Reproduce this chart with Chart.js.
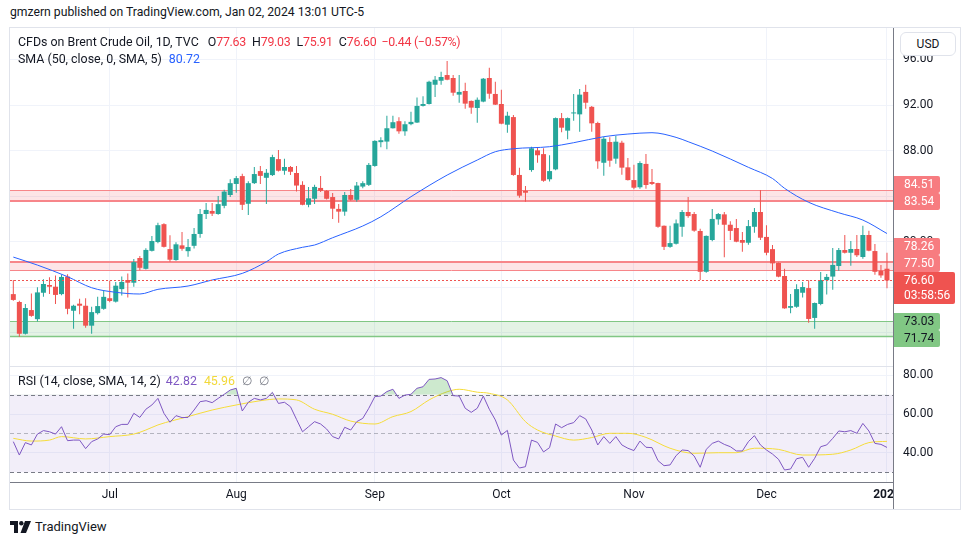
<!DOCTYPE html>
<html>
<head>
<meta charset="utf-8">
<script src="https://cdn.jsdelivr.net/npm/chart.js@4.4.1/dist/chart.umd.min.js"></script>
<style>
  body { margin: 0; background: #fff; font-family: Roboto, "Noto Sans", sans-serif; color: #131722; }
  #page { position: relative; width: 970px; height: 545px; overflow: hidden; }
  #hdr { position: absolute; left: 10px; top: 5px; font-size: 12.2px; white-space: nowrap; }
  #box { position: absolute; left: 9px; top: 27px; width: 950px; height: 481px; border: 1px solid #e0e3eb; }
  #chart { position: absolute; left: 0; top: 0; }
  .lg { position: absolute; left: 8px; font-size: 12.4px; line-height: 16px; white-space: nowrap; color: #131722; }
  .dn { color: #f23645; letter-spacing: -0.3px; }
  #usd { position: absolute; left: 890px; top: 4px; width: 54px; height: 22px; border: 1px solid #e0e3eb; border-radius: 6px;
         background: #fff; font-size: 12px; line-height: 22px; text-align: center; }
  #ftr { position: absolute; left: 10px; top: 519px; height: 16px; font-size: 13px; line-height: 16px; white-space: nowrap; }
  #ftr svg { position: absolute; left: 0; top: 2px; }
  #ftr span { position: absolute; left: 25px; top: 0; }
</style>
</head>
<body>
<div id="page">
  <div id="hdr">gmzern published on TradingView.com, Jan 02, 2024 13:01 UTC-5</div>
  <div id="box">
    <canvas id="chart" width="950" height="481"></canvas>
    <div class="lg" id="lg1" style="top:6px"></div>
    <div class="lg" id="lg2" style="top:23px"></div>
    <div class="lg" id="lg3" style="top:345px"></div>
    <div id="usd">USD</div>
  </div>
  <div id="ftr">
    <svg width="22" height="12" viewBox="0 0 22 12">
      <path d="M0 0h8v12h-4v-8h-4z" fill="#131722"/>
      <circle cx="11.3" cy="2.2" r="2.2" fill="#131722"/>
      <path d="M15 0h6l-5 12h-5.5z" fill="#131722"/>
    </svg>
    <span>TradingView</span>
  </div>
</div>
<script>
// daily candles, Jun 9 2023 .. Jan 2 2024 (index = trading day)
const opens = [75.40,74.71,71.92,74.00,73.20,75.52,76.20,76.05,75.40,76.94,
  73.94,74.56,74.38,72.63,73.73,74.11,75.04,74.74,75.84,76.64,
  76.40,78.57,77.62,79.20,79.97,81.54,79.35,78.39,79.68,79.17,
  79.64,80.68,82.43,82.70,82.43,83.15,84.10,85.07,85.76,83.33,
  85.14,86.20,85.61,85.85,87.25,86.23,86.56,86.03,84.99,83.24,
  83.77,84.72,84.46,83.92,82.88,82.64,84.10,83.68,84.84,84.99,
  86.65,88.74,88.79,89.96,90.58,89.69,90.32,90.46,91.92,92.09,
  93.78,94.13,94.63,94.37,92.91,93.23,92.36,91.74,92.30,94.37,
  92.97,92.09,90.27,90.94,85.86,84.47,86.29,88.02,87.69,85.48,
  86.35,90.85,89.75,91.26,91.18,93.15,91.84,90.42,86.93,88.75,
  87.29,88.69,86.53,85.41,84.78,86.83,85.24,85.15,81.40,79.55,
  79.82,81.31,82.61,82.43,80.94,77.36,80.15,81.96,82.40,81.49,
  81.20,80.15,79.91,81.31,82.61,80.42,79.35,78.13,76.99,74.20,
  74.29,75.52,75.93,73.31,74.53,76.62,76.94,77.87,79.27,79.03,
  79.36,78.66,80.59,79.18,77.45,77.63];
const highs = [76.64,74.82,74.53,75.46,76.00,76.70,76.89,77.04,77.09,77.15,
  74.47,75.00,75.03,74.29,75.16,75.76,76.58,76.47,76.94,77.21,
  78.48,78.75,79.43,80.51,81.66,81.62,80.57,79.95,80.86,80.24,
  81.20,82.88,83.39,83.39,84.01,84.57,85.49,85.76,85.96,85.31,
  86.56,86.65,86.38,87.63,88.05,87.28,86.65,86.65,85.31,84.81,
  84.99,85.76,84.54,84.28,83.32,84.37,84.63,85.25,85.31,86.91,
  88.90,89.16,91.06,91.06,90.92,90.58,91.41,92.67,92.76,94.13,
  94.55,94.92,95.86,94.63,94.63,93.96,92.40,92.67,94.37,95.28,
  94.04,93.34,91.41,91.12,86.50,84.89,88.34,88.32,88.20,87.59,
  90.91,91.30,90.91,92.97,93.40,93.78,91.91,90.54,89.21,89.16,
  89.30,88.87,87.35,86.76,87.06,87.69,86.38,85.18,81.43,81.40,
  81.96,82.79,83.92,82.61,81.13,80.55,82.88,82.52,82.61,81.79,
  81.99,80.86,81.90,82.95,84.54,81.45,79.71,78.17,77.63,75.40,
  76.26,76.47,76.62,74.67,77.34,77.16,79.45,79.45,80.59,80.06,
  80.59,81.40,80.97,79.80,77.95,79.03];
const lows = [74.82,71.65,71.85,73.42,72.99,75.16,75.40,74.53,75.30,73.64,
  72.37,73.64,72.45,71.92,73.62,74.02,74.68,74.67,75.28,75.10,
  76.05,77.50,77.57,79.15,79.86,79.50,78.24,78.32,79.20,78.69,
  79.41,80.35,81.99,82.25,82.37,82.94,83.92,84.30,82.79,82.34,
  85.07,85.07,83.32,85.77,86.17,85.87,85.85,84.40,83.20,83.03,
  83.32,84.37,83.70,81.99,81.66,82.28,83.60,83.50,84.70,84.90,
  86.57,88.29,88.11,89.93,89.48,89.30,90.23,90.43,91.86,92.05,
  92.70,93.78,94.17,92.82,92.20,91.68,91.24,90.45,92.25,92.55,
  92.00,90.32,89.57,85.80,83.86,83.50,86.14,86.93,85.26,85.28,
  86.27,89.60,88.99,90.62,89.66,91.68,89.66,86.41,85.80,86.59,
  86.84,85.87,85.38,84.60,84.65,84.65,84.98,81.23,79.27,79.46,
  79.75,80.43,82.10,80.88,76.63,77.28,80.05,81.49,78.63,80.15,
  79.95,79.12,79.74,80.79,80.15,78.81,77.51,76.89,74.12,73.71,
  74.20,75.10,72.89,72.37,74.42,75.37,75.78,77.45,78.97,77.89,
  78.66,78.51,79.16,77.10,76.83,75.91];
const closes = [74.89,71.92,74.18,73.49,75.55,76.29,76.05,75.33,76.91,74.11,
  74.38,74.38,72.63,73.82,74.35,75.16,74.80,76.14,76.47,76.40,
  78.21,77.71,79.28,80.06,81.45,79.55,78.42,79.77,79.38,79.53,
  80.68,82.43,82.79,82.46,83.30,84.40,85.14,85.58,83.24,85.14,
  85.94,85.78,86.05,87.43,86.23,86.56,86.14,84.93,83.24,83.81,
  84.81,84.46,83.77,82.90,82.64,84.10,83.68,84.93,85.14,86.74,
  88.85,88.91,89.96,90.49,89.69,90.31,90.52,91.92,92.09,94.04,
  94.22,94.46,94.22,93.08,93.15,92.12,91.77,92.46,94.31,92.99,
  92.03,90.36,91.06,85.86,84.04,84.30,88.20,87.59,85.35,86.20,
  90.85,90.01,90.85,91.31,92.91,92.20,90.39,87.06,89.04,87.11,
  88.78,86.50,85.41,84.74,86.91,84.98,85.07,81.31,79.55,79.88,
  81.61,82.61,82.25,80.97,77.36,80.51,82.00,82.43,81.49,80.95,
  80.00,79.91,81.37,82.61,80.35,79.03,78.10,76.93,74.15,74.35,
  75.84,76.02,73.22,74.62,76.64,76.91,77.96,79.27,79.03,79.36,
  78.81,80.59,79.21,77.36,77.04,76.60];

// SMA(50) at these candle indexes
const smaIdx = [0,4,9,13,17,21,24,29,33,38,42,44,48,50,53,58,61,66,72,77,80,83,89,93,98,102,106,110,112,116,122,126,128,132,137,141,145];
const smaVals = [78.65,77.95,76.93,75.96,75.56,75.41,75.82,76.11,76.64,77.22,78.24,78.92,79.51,79.71,80.35,81.38,82.19,83.95,85.85,87.17,87.90,88.16,88.34,88.69,89.22,89.45,89.57,89.16,88.78,87.96,86.53,85.55,84.69,83.46,82.54,81.90,80.72];

// RSI(14), one value per candle
const rsi = [45.8,38.9,45.3,44.1,49.7,51.5,50.9,49.7,53.5,46.3,
  46.6,46.6,42.2,45.8,47.2,49.7,49.4,53.5,54.7,54.7,
  60.4,58.3,62.5,64.7,68.1,60.4,55.8,59.2,58.2,58.3,
  62.1,66.4,66.9,65.9,68.1,70.2,72.4,73.3,61.6,66.1,
  68.1,67.3,68.1,71.2,65.5,66.1,63.8,57.3,50.9,53.5,
  56.1,54.9,52.3,48.4,47.2,53.2,51.8,56.1,57.8,63.0,
  69.0,69.3,71.6,72.8,68.1,69.8,70.2,73.3,74.1,77.9,
  78.1,78.8,77.2,69.5,69.3,63.0,60.9,63.0,69.3,62.5,
  57.0,49.2,51.6,36.3,32.2,32.9,46.6,45.4,40.5,42.7,
  54.9,53.0,54.7,55.6,59.2,57.5,51.8,44.1,48.4,44.9,
  48.4,44.1,42.4,41.2,46.1,42.9,42.7,36.0,33.4,33.8,
  38.6,41.5,41.2,38.4,32.6,41.8,44.9,46.1,44.4,43.2,
  41.0,41.0,45.8,48.9,44.1,41.5,39.4,36.7,31.2,31.7,
  37.0,37.7,32.6,37.2,43.2,44.1,47.5,51.3,50.9,51.5,
  50.1,55.2,51.3,44.9,44.4,42.82];

// SMA(14) of RSI, read at these indexes
const rsiMaIdx = [0,3,6,8,12,16,20,22,24,29,33,37,41,44,47,50,53,56,60,63,66,69,72,74,77,79,82,85,87,90,93,96,99,102,105,109,113,117,120,123,127,131,136,139,142,145];
const rsiMaVals = [47.5,46.1,46.6,48.4,47.2,48.4,49.7,51.8,54.4,58.7,62.1,64.7,66.9,67.8,67.3,62.5,59.9,56.4,54.9,58.7,61.3,67.3,71.5,72.8,71.3,70.7,67.3,56.1,51.8,48.7,46.6,47.9,50.1,50.1,48.0,42.4,39.8,40.1,40.1,42.4,41.8,38.9,39.3,41.5,45.3,45.96];

const tickIdx = [16, 37, 60, 81, 103, 125, 145];
const tickLabels = ['Jul', 'Aug', 'Sep', 'Oct', 'Nov', 'Dec', '2024'];
const priceTicks = [72, 76, 80, 84, 88, 92, 96];
const rsiTicks = [40, 60, 80];

// horizontal zones drawn on the chart
const zoneTop = [84.51, 78.26, 73.03];
const zoneBottom = [83.54, 77.50, 71.74];
const zoneKind = ['res', 'res', 'sup'];
const countdown = '03:58:56';

const UP = '#26a69a', DOWN = '#ef5350';
const zoneStyle = {
  res: { fill: 'rgba(242,54,69,0.13)', line: '#f7868a', tag: '#f77c80', text: '#ffffff' },
  sup: { fill: 'rgba(76,175,80,0.15)', line: '#81c784', tag: '#81c784', text: '#131722' }
};
const zoneLineW = [[1, 2], [2, 1], [1, 1.5]];

const n = closes.length - 1;
const fmt = v => v.toFixed(2);
const sgn = v => (v < 0 ? '\u2212' : '+') + Math.abs(v).toFixed(2);
const chg = closes[n] - closes[n - 1];
document.getElementById('lg1').innerHTML =
  'CFDs on Brent Crude Oil, 1D, TVC<span style="margin-left:9px">O</span><span class="dn">' + fmt(opens[n]) + '</span>' +
  '<span style="margin-left:6px">H</span><span class="dn">' + fmt(highs[n]) + '</span>' +
  '<span style="margin-left:6px">L</span><span class="dn">' + fmt(lows[n]) + '</span>' +
  '<span style="margin-left:6px">C</span><span class="dn">' + fmt(closes[n]) + '</span>' +
  '<span class="dn" style="margin-left:5px">' + sgn(chg) + ' (' + sgn(chg / closes[n - 1] * 100) + '%)</span>';
document.getElementById('lg2').innerHTML =
  'SMA (50, close, 0, SMA, 5)<span style="margin-left:7px;color:#2962ff">' + fmt(smaVals[smaVals.length - 1]) + '</span>';
document.getElementById('lg3').innerHTML =
  'RSI (14, close, SMA, 14, 2)<span style="margin-left:5px;color:#7e57c2">' + fmt(rsi[n]) + '</span>' +
  '<span style="margin-left:7px;color:#f2d93a">' + fmt(rsiMaVals[rsiMaVals.length - 1]) + '</span>' +
  '<span style="margin-left:7px;color:#787b86">\u2205</span><span style="margin-left:7px;color:#787b86">\u2205</span>';

const idx = closes.map((_, i) => i);
const candleColors = idx.map(i => closes[i] >= opens[i] ? UP : DOWN);

function hline(ctx, a, py, w) {
  ctx.lineWidth = w;
  const yy = w % 2 ? Math.round(py) + 0.5 : Math.round(py);
  ctx.beginPath(); ctx.moveTo(a.left, yy); ctx.lineTo(a.right, yy); ctx.stroke();
}

function tag(ctx, x, yc, w, h, bg, fg, t1, t2) {
  ctx.fillStyle = bg;
  ctx.beginPath(); ctx.roundRect(x, Math.round(yc - 8.5), w, h, [0, 2, 2, 0]); ctx.fill();
  ctx.fillStyle = fg;
  ctx.font = '12px Roboto, "Noto Sans", sans-serif';
  ctx.textAlign = 'left'; ctx.textBaseline = 'middle';
  ctx.fillText(t1, x + 10, yc + 0.5);
  if (t2) ctx.fillText(t2, x + 10, yc + 16);
}

const noPad = s => { s.paddingTop = 0; s.paddingBottom = 0; s.paddingLeft = 0; s.paddingRight = 0; };

const tvPlugin = {
  id: 'tv',
  beforeDatasetsDraw(chart) {
    const { ctx, chartArea: a, scales: { y, yr } } = chart;
    ctx.save();
    ctx.beginPath(); ctx.rect(a.left, a.top, a.width, a.height); ctx.clip();
    // RSI band 30..70
    const p70 = yr.getPixelForValue(70), p50 = yr.getPixelForValue(50), p30 = yr.getPixelForValue(30);
    ctx.fillStyle = 'rgba(126,87,194,0.1)';
    ctx.fillRect(a.left, p70, a.width, p30 - p70);
    ctx.setLineDash([4, 3]);
    ctx.strokeStyle = '#787b86'; hline(ctx, a, p70, 1); hline(ctx, a, p30, 1);
    ctx.strokeStyle = 'rgba(120,123,134,0.5)'; hline(ctx, a, p50, 1);
    ctx.setLineDash([]);
    // zones
    zoneTop.forEach((top, k) => {
      const st = zoneStyle[zoneKind[k]];
      const yt = y.getPixelForValue(top), yb = y.getPixelForValue(zoneBottom[k]);
      ctx.fillStyle = st.fill;
      ctx.fillRect(a.left, Math.round(yt), a.width, Math.round(yb) - Math.round(yt));
      ctx.strokeStyle = st.line;
      hline(ctx, a, yt, zoneLineW[k][0]);
      hline(ctx, a, yb, zoneLineW[k][1]);
    });
    ctx.restore();
  },
  afterDatasetsDraw(chart) {
    const { ctx, chartArea: a, scales: { y } } = chart;
    ctx.save();
    ctx.strokeStyle = DOWN;
    ctx.setLineDash([2, 2]);
    hline(ctx, a, y.getPixelForValue(closes[n]), 1);
    ctx.restore();
  },
  afterDraw(chart) {
    const { ctx, chartArea: a, scales: { y } } = chart;
    const ax = a.right;
    ctx.save();
    ctx.fillStyle = '#fff';
    ctx.fillRect(ax + 1, a.bottom + 1, chart.width - ax, chart.height - a.bottom);
    ctx.strokeStyle = '#787b86'; ctx.lineWidth = 1;
    ctx.beginPath(); ctx.moveTo(ax + 0.5, a.top); ctx.lineTo(ax + 0.5, chart.height); ctx.stroke();
    ctx.strokeStyle = '#e0e3eb';
    ctx.beginPath(); ctx.moveTo(a.left, Math.round(y.bottom) + 0.5); ctx.lineTo(ax, Math.round(y.bottom) + 0.5); ctx.stroke();

    // price tags on the axis, pushed apart so they don't overlap
    const cy = y.getPixelForValue(closes[n]);
    const curTop = cy - 8.5, curBot = curTop + 32;
    const items = [];
    zoneTop.forEach((v, k) => { items.push({ v, k }); items.push({ v: zoneBottom[k], k }); });
    const above = items.filter(o => o.v > closes[n]).sort((p, q) => p.v - q.v);
    const below = items.filter(o => o.v <= closes[n]).sort((p, q) => q.v - p.v);
    let lim = curTop;
    above.forEach(o => { o.y = Math.min(y.getPixelForValue(o.v), lim - 8.5); lim = o.y - 8.5; });
    lim = curBot;
    below.forEach(o => { o.y = Math.max(y.getPixelForValue(o.v), lim + 8.5); lim = o.y + 8.5; });
    above.concat(below).forEach(o => {
      const st = zoneStyle[zoneKind[o.k]];
      tag(ctx, ax + 1, o.y, 46, 17, st.tag, st.text, fmt(o.v));
    });
    tag(ctx, ax + 1, cy, 61, 32, DOWN, '#ffffff', fmt(closes[n]), countdown);
    ctx.restore();
  }
};

Chart.defaults.font.family = 'Roboto, "Noto Sans", sans-serif';
Chart.defaults.color = '#131722';

new Chart(document.getElementById('chart'), {
  type: 'bar',
  data: {
    datasets: [
      {
        type: 'line', label: 'RSI', yAxisID: 'yr', order: 0,
        data: idx.map(i => ({ x: i, y: rsi[i] })),
        borderColor: '#7e57c2', borderWidth: 1, pointRadius: 0, tension: 0,
        fill: { target: { value: 70 }, above: 'rgba(76,175,80,0.28)', below: 'rgba(0,0,0,0)' }
      },
      {
        type: 'line', label: 'RSI MA', yAxisID: 'yr', order: 1,
        data: rsiMaIdx.map((v, k) => ({ x: v, y: rsiMaVals[k] })),
        borderColor: '#f5dc3a', borderWidth: 1, pointRadius: 0, cubicInterpolationMode: 'monotone'
      },
      {
        type: 'line', label: 'SMA 50', yAxisID: 'y', order: 1,
        data: smaIdx.map((v, k) => ({ x: v, y: smaVals[k] })),
        borderColor: '#2962ff', borderWidth: 1, pointRadius: 0, cubicInterpolationMode: 'monotone'
      },
      {
        type: 'bar', label: 'body', yAxisID: 'y', order: 2,
        data: idx.map(i => ({ x: i, y: [opens[i], closes[i]] })),
        backgroundColor: candleColors, barThickness: 5, grouped: false, minBarLength: 1, inflateAmount: 0
      },
      {
        type: 'bar', label: 'wick', yAxisID: 'y', order: 3,
        data: idx.map(i => ({ x: i, y: [lows[i], highs[i]] })),
        backgroundColor: candleColors, barThickness: 1, grouped: false, inflateAmount: 0
      }
    ]
  },
  options: {
    responsive: false,
    animation: false,
    devicePixelRatio: 1,
    events: [],
    layout: { padding: 0 },
    plugins: { legend: { display: false }, tooltip: { enabled: false }, filler: { propagate: false } },
    scales: {
      x: {
        type: 'linear', position: 'bottom', min: -0.55, max: 146.0, offset: false,
        afterBuildTicks: s => { s.ticks = tickIdx.map(v => ({ value: v })); },
        afterFit: s => { s.height = 27; noPad(s); },
        ticks: {
          autoSkip: false, maxRotation: 0, padding: 6, color: '#131722',
          font: ctx => ({ size: 12, weight: ctx.tick && ctx.tick.value === 145 ? 'bold' : 'normal' }),
          callback: v => tickLabels[tickIdx.indexOf(v)]
        },
        grid: { color: '#f0f3fa', drawTicks: false, offset: false },
        border: { color: '#787b86' }
      },
      y: {
        position: 'right', stack: 'panes', stackWeight: 338, min: 69.09, max: 98.76,
        afterBuildTicks: s => { s.ticks = priceTicks.map(v => ({ value: v })); },
        afterFit: s => { s.width = 67; noPad(s); },
        ticks: { padding: 10, color: '#131722', font: { size: 12 }, callback: v => v.toFixed(2) },
        grid: { color: '#f0f3fa', drawTicks: false },
        border: { color: '#787b86' }
      },
      yr: {
        position: 'right', stack: 'panes', stackWeight: 116, min: 25, max: 84.79,
        afterBuildTicks: s => { s.ticks = rsiTicks.map(v => ({ value: v })); },
        afterFit: s => { s.width = 67; noPad(s); },
        ticks: { padding: 10, color: '#131722', font: { size: 12 }, callback: v => v.toFixed(2) },
        grid: { color: '#f0f3fa', drawTicks: false },
        border: { color: '#787b86' }
      }
    }
  },
  plugins: [tvPlugin]
});
</script>
</body>
</html>
